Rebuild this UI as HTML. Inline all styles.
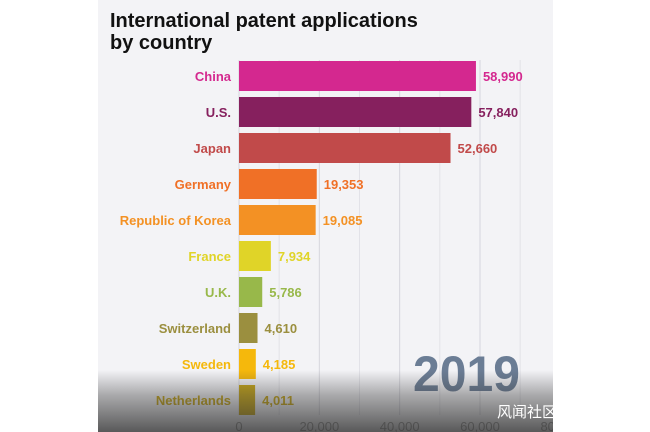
<!DOCTYPE html>
<html><head><meta charset="utf-8"><style>
body{margin:0;width:650px;height:432px;background:#fff;overflow:hidden;font-family:"Liberation Sans","Noto Sans CJK SC",sans-serif;}
#panel{position:absolute;left:98px;top:0;width:455px;height:432px;background:#f3f3f6;overflow:hidden;}
#overlay{position:absolute;left:0;top:370px;width:455px;height:62px;background:linear-gradient(to bottom,rgba(60,60,60,0),rgba(60,60,60,0.4) 40%,rgba(50,50,50,0.8));}
</style></head><body>
<div id="panel">
<svg id="chart" width="455" height="432"></svg>
<div id="overlay"></div>
<div style="position:absolute;left:399px;top:401px;color:#fff;font-size:15px;white-space:nowrap">风闻社区</div>
</div>
<script>
const countries=["China","U.S.","Japan","Germany","Republic of Korea","France","U.K.","Switzerland","Sweden","Netherlands"];
const values=[58990,57840,52660,19353,19085,7934,5786,4610,4185,4011];
const colors=["#d4288f","#86205e","#c14a4a","#f07026","#f39124","#e0d428","#98b84a","#9b8f3f","#f5b80c","#c9a816"];
const ticks=[0,20000,40000,60000,80000];
const minorTicks=[10000,30000,50000,70000];
const NS="http://www.w3.org/2000/svg";
const svg=document.getElementById("chart");
const x0=141,scale=241/60000;
const xs=v=>x0+v*scale;
const yc=i=>76+i*36;
function mk(t,a){const e=document.createElementNS(NS,t);for(const k in a)e.setAttribute(k,a[k]);svg.appendChild(e);return e;}
let t=mk("text",{x:12,y:27,"font-size":20,"font-weight":"bold",fill:"#111"});t.textContent="International patent applications";


t=mk("text",{x:12,y:49,"font-size":20,"font-weight":"bold",fill:"#111"});t.textContent="by country";


minorTicks.forEach(v=>{
 const l=mk("line",{x1:xs(v),x2:xs(v),y1:60,y2:415,stroke:"#e2e2e8","stroke-width":1});
 
 
});
ticks.forEach(v=>{
 const l=mk("line",{x1:xs(v),x2:xs(v),y1:60,y2:415,stroke:"#d6d6dd","stroke-width":1});
 
 
 const tx=mk("text",{x:xs(v),y:431,"text-anchor":"middle","font-size":13,fill:"#999"});
 tx.textContent=v.toLocaleString("en-US");
 
 
});
countries.forEach((c,i)=>{
 const r=mk("rect",{x:x0,y:yc(i)-15,width:values[i]*scale,height:30,fill:colors[i]});
 
 
 const lb=mk("text",{x:x0-8,y:yc(i)+5,"text-anchor":"end","font-size":13,"font-weight":"bold",fill:colors[i]});
 lb.textContent=c;
 
 
 const vl=mk("text",{x:xs(values[i])+7,y:yc(i)+5,"font-size":13,"font-weight":"bold",fill:colors[i]});
 vl.textContent=values[i].toLocaleString("en-US");
 
 
});
const yr=mk("text",{x:315,y:391,"font-size":50,"font-weight":"bold",fill:"#6b7d95",textLength:107,lengthAdjust:"spacingAndGlyphs"});
yr.textContent="2019";


</script>
</body></html>
